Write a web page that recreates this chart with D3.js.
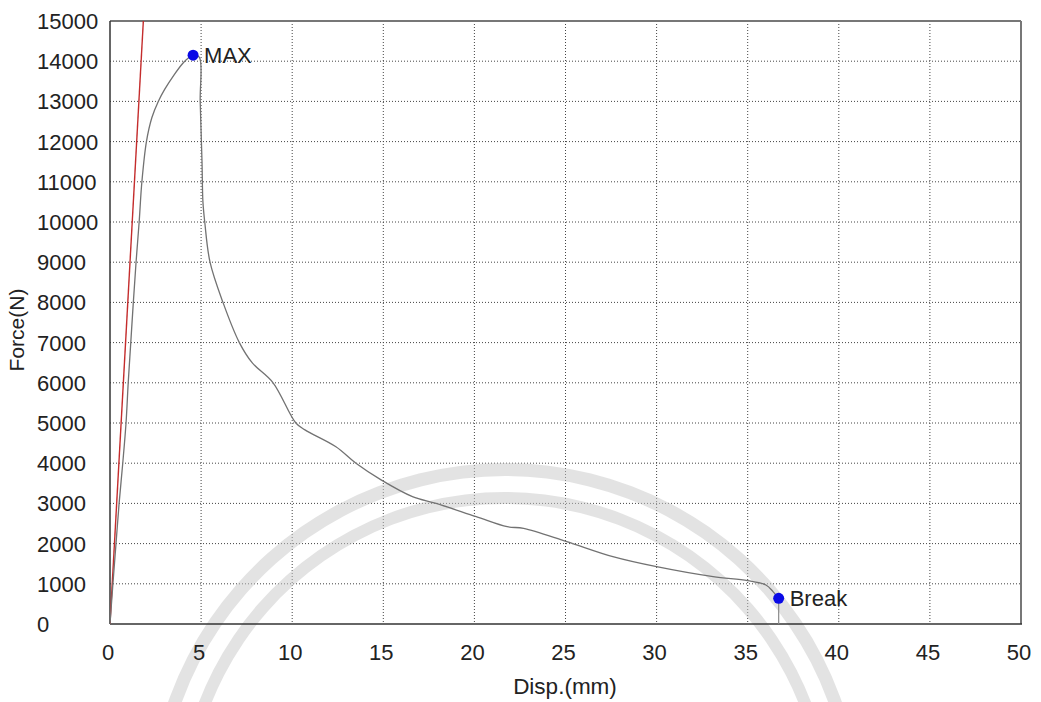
<!DOCTYPE html>
<html>
<head>
<meta charset="utf-8">
<script src="https://cdn.jsdelivr.net/npm/d3@7"></script>
<style>
  html, body { margin: 0; padding: 0; background: #fff; }
  svg { display: block; font-family: "Liberation Sans", Arial, sans-serif; }
</style>
</head>
<body>
<svg id="chart" width="1041" height="702"></svg>
<script>
// Tensile test record: displacement (mm) vs force (N)
const dispValues = [0, 0.16, 0.33, 0.5, 0.7, 0.88, 1.0, 1.14, 1.28, 1.43, 1.6, 1.75, 2.0, 2.3, 2.65, 3.0, 3.5, 4.0, 4.3, 4.56,
  4.9, 4.95, 5.05, 5.1, 5.2, 5.49, 6.2, 7.1, 7.8, 8.95, 10.2, 10.7, 12.4, 13.5, 14.9, 16.6, 17.9, 20.1, 21.8, 22.7,
  25.07, 27.6, 30.0, 33.1, 35.0, 36.0, 36.4, 36.7, 36.7];
const forceValues = [0, 1000, 2000, 3000, 4000, 5000, 6000, 7000, 8000, 9000, 10000, 11000, 12000, 12600, 13000, 13300, 13650, 13950, 14080, 14150,
  14100, 13000, 11500, 10500, 10000, 9000, 8000, 7000, 6500, 6000, 5000, 4830, 4410, 4000, 3580, 3170, 3000, 2670, 2420, 2380,
  2050, 1675, 1425, 1177, 1077, 970, 800, 640, 0];

// Elastic slope line
const slopeDisp = [0, 1.83];
const slopeForce = [0, 15000];

// Marked points
const markLabels = ["MAX", "Break"];
const markDisp = [4.56, 36.7];
const markForce = [14150, 640];

const xTicks = [0, 5, 10, 15, 20, 25, 30, 35, 40, 45, 50];
const yTicks = [0, 1000, 2000, 3000, 4000, 5000, 6000, 7000, 8000, 9000, 10000, 11000, 12000, 13000, 14000, 15000];

const svg = d3.select("#chart");
const pL = 110, pR = 1021, pT = 21, pB = 624;

const x = d3.scaleLinear().domain([0, 50]).range([pL, pR]);
const y = d3.scaleLinear().domain([0, 15000]).range([pB, pT]);

// clip for plot area
svg.append("defs").append("clipPath").attr("id", "plotClip")
  .append("rect").attr("x", pL).attr("y", pT).attr("width", pR - pL).attr("height", pB - pT);

// grid
const grid = svg.append("g");
grid.selectAll("line.v").data(xTicks.slice(1, -1)).join("line")
  .attr("x1", d => x(d)).attr("x2", d => x(d)).attr("y1", pT).attr("y2", pB)
  .attr("stroke", "#444").attr("stroke-width", 1).attr("stroke-dasharray", "1,2");
grid.selectAll("line.h").data(yTicks.slice(1, -1)).join("line")
  .attr("x1", pL).attr("x2", pR).attr("y1", d => y(d)).attr("y2", d => y(d))
  .attr("stroke", "#444").attr("stroke-width", 1).attr("stroke-dasharray", "1,2");

// faint seal in the background
const seal = svg.append("g").attr("opacity", 0.5);
const arc = d3.arc();
[{r0: 344, r1: 357}, {r0: 316, r1: 328}].forEach(b => {
  seal.append("path")
    .attr("transform", "translate(505,820)")
    .attr("d", arc({innerRadius: b.r0, outerRadius: b.r1, startAngle: -Math.PI * 0.62, endAngle: Math.PI * 0.62}))
    .attr("fill", "#c8c8c8");
});

// frame
svg.append("line").attr("x1", pL).attr("x2", pR).attr("y1", pT).attr("y2", pT)
  .attr("stroke", "#777").attr("stroke-width", 2);
svg.append("line").attr("x1", pR).attr("x2", pR).attr("y1", pT).attr("y2", pB)
  .attr("stroke", "#777").attr("stroke-width", 2);
svg.append("line").attr("x1", pL).attr("x2", pL).attr("y1", pT).attr("y2", pB)
  .attr("stroke", "#333").attr("stroke-width", 1.5);
svg.append("line").attr("x1", pL).attr("x2", pR + 1).attr("y1", pB).attr("y2", pB)
  .attr("stroke", "#333").attr("stroke-width", 1.5);

// tick labels
svg.append("g").selectAll("text").data(xTicks).join("text")
  .attr("x", d => x(d) - 2).attr("y", 660)
  .attr("text-anchor", "middle").attr("font-size", 22).attr("fill", "#222")
  .text(d => d);
svg.append("g").selectAll("text").data(yTicks).join("text")
  .attr("x", 37).attr("y", d => y(d) + 8)
  .attr("text-anchor", "start").attr("font-size", 22).attr("fill", "#222")
  .text(d => d);

// axis titles
svg.append("text").attr("x", 565).attr("y", 694).attr("text-anchor", "middle")
  .attr("font-size", 22.5).attr("fill", "#222").text("Disp.(mm)");
svg.append("text").attr("transform", "translate(24,330) rotate(-90)").attr("text-anchor", "middle")
  .attr("font-size", 21).attr("fill", "#222").text("Force(N)");

const plot = svg.append("g").attr("clip-path", "url(#plotClip)");
const line = d3.line().x(d => x(d[0])).y(d => y(d[1]));
const smooth = d3.line().x(d => x(d[0])).y(d => y(d[1])).curve(d3.curveCatmullRom.alpha(0.5));

plot.append("path")
  .attr("d", line(d3.zip(slopeDisp, slopeForce)))
  .attr("fill", "none").attr("stroke", "#c42c2c").attr("stroke-width", 1.4);

const curvePts = d3.zip(dispValues, forceValues);
plot.append("path")
  .attr("d", smooth(curvePts.slice(0, -1)))
  .attr("fill", "none").attr("stroke", "#727272").attr("stroke-width", 1.3);
// drop to zero after break
plot.append("path")
  .attr("d", line(curvePts.slice(-2)))
  .attr("fill", "none").attr("stroke", "#8a8a8a").attr("stroke-width", 1.2);

// markers
const marks = svg.append("g");
marks.selectAll("circle").data(d3.range(markLabels.length)).join("circle")
  .attr("cx", i => x(markDisp[i])).attr("cy", i => y(markForce[i])).attr("r", 5.5)
  .attr("fill", "#0a0ae6");
marks.selectAll("text").data(d3.range(markLabels.length)).join("text")
  .attr("x", i => x(markDisp[i]) + 11).attr("y", i => y(markForce[i]) + 8)
  .attr("font-size", 22).attr("fill", "#222")
  .text(i => markLabels[i]);
</script>
</body>
</html>
